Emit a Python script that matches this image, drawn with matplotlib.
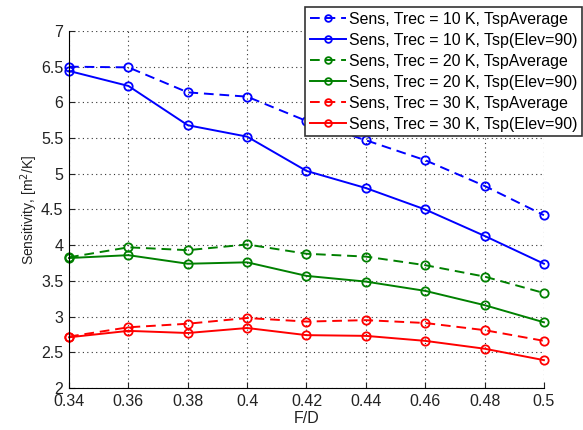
import matplotlib
matplotlib.use("Agg")
import matplotlib.pyplot as plt

plt.rcParams['font.family'] = ['Liberation Sans', 'DejaVu Sans']

fd = [0.34, 0.36, 0.38, 0.40, 0.42, 0.44, 0.46, 0.48, 0.50]

sens10_avg = [6.50, 6.49, 6.14, 6.08, 5.74, 5.47, 5.19, 4.83, 4.42]
sens10_el90 = [6.44, 6.23, 5.68, 5.52, 5.04, 4.80, 4.50, 4.13, 3.74]
sens20_avg = [3.83, 3.97, 3.93, 4.01, 3.88, 3.84, 3.72, 3.56, 3.33]
sens20_el90 = [3.82, 3.86, 3.74, 3.76, 3.57, 3.49, 3.36, 3.16, 2.92]
sens30_avg = [2.72, 2.85, 2.90, 2.98, 2.93, 2.95, 2.91, 2.81, 2.66]
sens30_el90 = [2.71, 2.80, 2.77, 2.84, 2.74, 2.73, 2.66, 2.55, 2.39]

xticks = [0.34, 0.36, 0.38, 0.40, 0.42, 0.44, 0.46, 0.48, 0.50]
xticklabels = ['0.34', '0.36', '0.38', '0.4', '0.42', '0.44', '0.46', '0.48', '0.5']
yticks = [2, 2.5, 3, 3.5, 4, 4.5, 5, 5.5, 6, 6.5, 7]
yticklabels = ['2', '2.5', '3', '3.5', '4', '4.5', '5', '5.5', '6', '6.5', '7']

fig = plt.figure(figsize=(5.83, 4.30), dpi=100)
ax = fig.add_axes([0.1184, 0.0977, 0.8146, 0.8303])

series = [
    (sens10_avg, '#0000ff', '--', 'Sens, Trec = 10 K, TspAverage'),
    (sens10_el90, '#0000ff', '-', 'Sens, Trec = 10 K, Tsp(Elev=90)'),
    (sens20_avg, '#008000', '--', 'Sens, Trec = 20 K, TspAverage'),
    (sens20_el90, '#008000', '-', 'Sens, Trec = 20 K, Tsp(Elev=90)'),
    (sens30_avg, '#ff0000', '--', 'Sens, Trec = 30 K, TspAverage'),
    (sens30_el90, '#ff0000', '-', 'Sens, Trec = 30 K, Tsp(Elev=90)'),
]
for vals, c, ls, lab in series:
    ax.plot(fd, vals, color=c, linestyle=ls, linewidth=1.4, marker='o',
            markersize=6, markerfacecolor='none', markeredgewidth=1.3,
            label=lab, dashes=(5, 3) if ls == '--' else (None, None), clip_on=False)

ax.set_xlim(0.34, 0.5)
ax.set_ylim(2, 7)
ax.set_xticks(xticks)
ax.set_xticklabels(xticklabels)
ax.set_yticks(yticks)
ax.set_yticklabels(yticklabels)
ax.tick_params(direction='in', length=4, labelsize=11.5, colors='#222222', pad=4)
ax.grid(True, color='#333333', linestyle=(0, (1, 3)), linewidth=0.8)
ax.spines['top'].set_visible(False)
ax.spines['right'].set_visible(False)
ax.set_xlabel('F/D', fontsize=11.5, color='#222222', labelpad=2)
ax.set_ylabel('Sensitivity, [m$^2$/K]', fontsize=10, color='#222222', labelpad=1)

leg = fig.legend(loc='upper right', bbox_to_anchor=(0.999, 0.984), fontsize=11.4,
                 frameon=True, fancybox=False, framealpha=1, edgecolor='#333333',
                 handlelength=2.3, handletextpad=0.2, borderpad=0.3, labelspacing=0.38,
                 borderaxespad=0, markerscale=0.8)
leg.get_frame().set_linewidth(1.2)

fig.savefig('out.png', dpi=100)
